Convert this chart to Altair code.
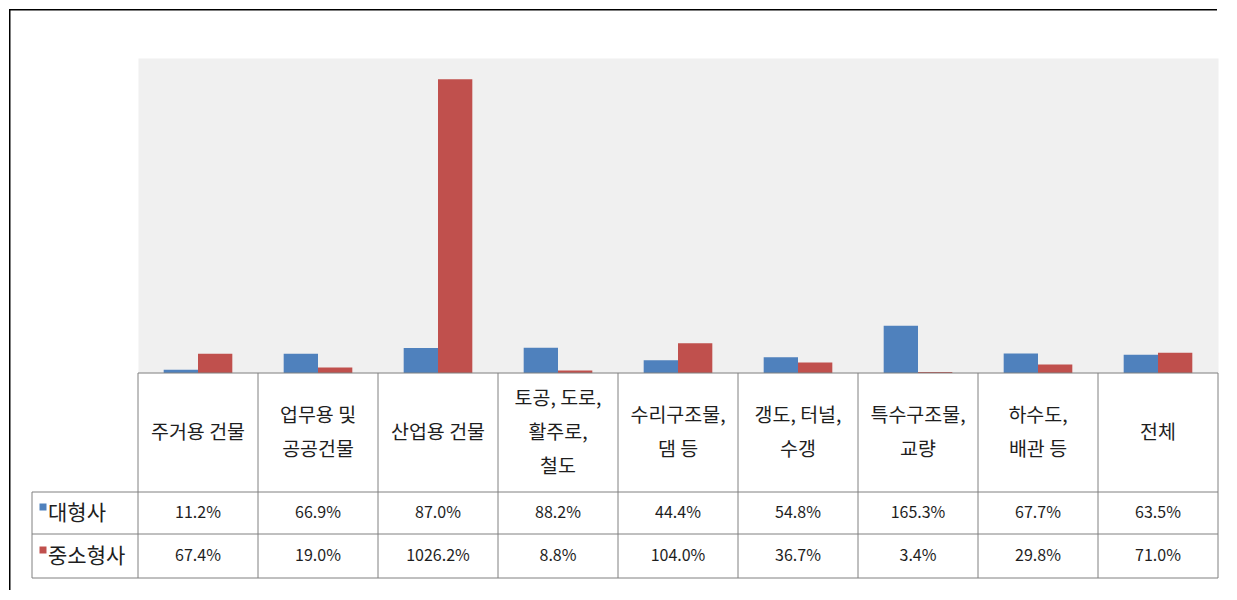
import altair as alt
import pandas as pd

categories = [
    "주거용 건물",
    "업무용 및\n공공건물",
    "산업용 건물",
    "토공, 도로,\n활주로,\n철도",
    "수리구조물,\n댐 등",
    "갱도, 터널,\n수갱",
    "특수구조물,\n교량",
    "하수도,\n배관 등",
    "전체",
]
series = ["대형사", "중소형사"]
large = [11.2, 66.9, 87.0, 88.2, 44.4, 54.8, 165.3, 67.7, 63.5]
small = [67.4, 19.0, 1026.2, 8.8, 104.0, 36.7, 3.4, 29.8, 71.0]
colors = ["#4F81BD", "#C0504D"]

rows = []
for c, a, b in zip(categories, large, small):
    rows.append({"cat": c, "series": series[0], "value": a, "label": f"{a:.1f}%"})
    rows.append({"cat": c, "series": series[1], "value": b, "label": f"{b:.1f}%"})
df = pd.DataFrame(rows)
cat_df = pd.DataFrame({"cat": categories})
cat_df["nlines"] = cat_df["cat"].str.count("\n") + 1
one = pd.DataFrame({"k": [0]})

FONT = "Noto Sans CJK KR"
TXT = "#1e1e1e"
GRID = "#808080"
W = 1080
HB = 315
HT = 205
FL = -129  # frame left (relative to plot)
LH = 34

color_scale = alt.Scale(domain=series, range=colors)

# ---------- bar chart ----------
bars = alt.Chart(df).mark_bar().encode(
    x=alt.X("cat:N", sort=categories,
            scale=alt.Scale(paddingInner=0.428, paddingOuter=0.214), axis=None),
    xOffset=alt.XOffset("series:N", sort=series,
                        scale=alt.Scale(paddingInner=0, paddingOuter=0)),
    y=alt.Y("value:Q", scale=alt.Scale(domain=[0, 1100], nice=False), axis=None),
    color=alt.Color("series:N", scale=color_scale, legend=None),
)

frame_top = alt.Chart(one).mark_rect(color="black").encode(
    x=alt.value(FL), x2=alt.value(1079), y=alt.value(-49), y2=alt.value(-47.5)
)
frame_left_top = alt.Chart(one).mark_rect(color="black").encode(
    x=alt.value(FL), x2=alt.value(FL + 1.5), y=alt.value(-49), y2=alt.value(HB)
)

top = alt.layer(bars, frame_top, frame_left_top).properties(
    width=W, height=HB,
    view=alt.ViewBackground(fill="#F0F0F0", stroke="transparent"),
)

# ---------- data table ----------
xcat = alt.X("cat:N", sort=categories,
             scale=alt.Scale(paddingInner=0, paddingOuter=0), axis=None)

header_layers = []
for n in (1, 2, 3):
    header_layers.append(
        alt.Chart(cat_df[cat_df["nlines"] == n]).mark_text(
            font=FONT, fontSize=19.5, color=TXT, lineBreak="\n", lineHeight=LH,
            baseline="middle", align="center",
        ).encode(x=xcat, y=alt.value(59.5 - (n - 1) * LH / 2), text="cat:N")
    )

row1 = alt.Chart(df[df["series"] == series[0]]).mark_text(
    font=FONT, fontSize=16, color=TXT, baseline="middle", align="center"
).encode(x=xcat, y=alt.value(140), text="label:N")

row2 = alt.Chart(df[df["series"] == series[1]]).mark_text(
    font=FONT, fontSize=16, color=TXT, baseline="middle", align="center"
).encode(x=xcat, y=alt.value(183), text="label:N")

vlines = alt.Chart(cat_df).mark_rule(color=GRID, strokeWidth=1).encode(
    x=alt.X("cat:N", sort=categories, bandPosition=0,
            scale=alt.Scale(paddingInner=0, paddingOuter=0), axis=None),
    y=alt.value(0), y2=alt.value(HT),
)
vline_right = alt.Chart(one).mark_rule(color=GRID, strokeWidth=1).encode(
    x=alt.value(W), y=alt.value(0), y2=alt.value(HT)
)
vline_label = alt.Chart(one).mark_rule(color=GRID, strokeWidth=1).encode(
    x=alt.value(-106), y=alt.value(119), y2=alt.value(HT)
)
hline_top = alt.Chart(one).mark_rule(color=GRID, strokeWidth=1).encode(
    x=alt.value(0), x2=alt.value(W), y=alt.value(0)
)
hline_1 = alt.Chart(one).mark_rule(color=GRID, strokeWidth=1).encode(
    x=alt.value(-106), x2=alt.value(W), y=alt.value(119)
)
hline_2 = alt.Chart(one).mark_rule(color=GRID, strokeWidth=1).encode(
    x=alt.value(-106), x2=alt.value(W), y=alt.value(161)
)
hline_3 = alt.Chart(one).mark_rule(color=GRID, strokeWidth=1).encode(
    x=alt.value(-106), x2=alt.value(W), y=alt.value(HT)
)

leg_df = pd.DataFrame({"series": series})
sq1 = alt.Chart(leg_df[leg_df["series"] == series[0]]).mark_square(
    size=49, opacity=1, filled=True
).encode(x=alt.value(-95), y=alt.value(134),
         color=alt.Color("series:N", scale=color_scale, legend=None))
sq2 = alt.Chart(leg_df[leg_df["series"] == series[1]]).mark_square(
    size=49, opacity=1, filled=True
).encode(x=alt.value(-95), y=alt.value(177),
         color=alt.Color("series:N", scale=color_scale, legend=None))
lab1 = alt.Chart(leg_df[leg_df["series"] == series[0]]).mark_text(
    font=FONT, fontSize=21, color=TXT, align="left", baseline="middle"
).encode(x=alt.value(-90), y=alt.value(141), text="series:N")
lab2 = alt.Chart(leg_df[leg_df["series"] == series[1]]).mark_text(
    font=FONT, fontSize=21, color=TXT, align="left", baseline="middle"
).encode(x=alt.value(-90), y=alt.value(184), text="series:N")

frame_left_bot = alt.Chart(one).mark_rect(color="black").encode(
    x=alt.value(FL), x2=alt.value(FL + 1.5), y=alt.value(0), y2=alt.value(217)
)

bottom = alt.layer(
    vlines, vline_right, vline_label, hline_top, hline_1, hline_2, hline_3,
    *header_layers, row1, row2, sq1, sq2, lab1, lab2, frame_left_bot,
).properties(
    width=W, height=HT,
    view=alt.ViewBackground(fill="white", stroke="transparent"),
)

chart = alt.vconcat(top, bottom, spacing=0, bounds="flush").properties(
    padding=0, background="white"
).configure_view(stroke="transparent")

chart.save("out.html", embed_options={"renderer": "svg", "actions": False})
